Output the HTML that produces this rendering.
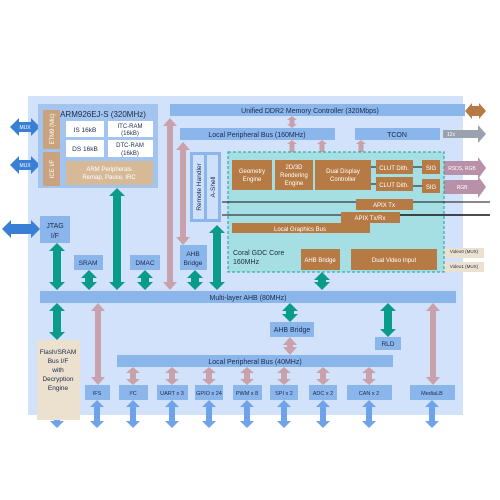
<!DOCTYPE html>
<html><head><meta charset="utf-8"><style>
html,body{margin:0;padding:0;background:#fff;width:500px;height:500px;overflow:hidden}
svg text{font-family:"Liberation Sans",sans-serif;fill:#1a2a4a}
</style></head><body>
<svg id="s" width="500" height="500" viewBox="0 0 500 500" xmlns="http://www.w3.org/2000/svg">
<rect x="28" y="96" width="435" height="319" fill="#d2e2fb"/>
<g id="arrows"></g>
<!-- ARM block -->
<rect x="38" y="104" width="120" height="84" fill="#a3c4ef"/>
<text x="103" y="117" font-size="8" text-anchor="middle">ARM926EJ-S (320MHz)</text>
<rect x="43" y="110" width="17" height="39" fill="#c9a27e"/>
<text transform="translate(54,129) rotate(-90)" font-size="6" text-anchor="middle" style="fill:#fff">ETM9 (Mic)</text>
<rect x="43" y="152" width="17" height="34" fill="#c9a27e"/>
<text transform="translate(54,169) rotate(-90)" font-size="6" text-anchor="middle" style="fill:#fff">ICE I/F</text>
<rect x="66" y="121" width="38" height="16" fill="#fff"/><text x="85" y="132" font-size="6.5" text-anchor="middle">IS 16kB</text>
<rect x="108" y="121" width="45" height="16" fill="#fff"/><text x="130" y="128" font-size="6" text-anchor="middle">ITC-RAM</text><text x="130" y="135" font-size="6" text-anchor="middle">(16kB)</text>
<rect x="66" y="140" width="38" height="17" fill="#fff"/><text x="85" y="151" font-size="6.5" text-anchor="middle">DS 16kB</text>
<rect x="108" y="140" width="45" height="17" fill="#fff"/><text x="130" y="147" font-size="6" text-anchor="middle">DTC-RAM</text><text x="130" y="155" font-size="6" text-anchor="middle">(16kB)</text>
<rect x="66" y="161" width="87" height="24" fill="#d6b997"/>
<text x="109" y="171" font-size="6" text-anchor="middle" style="fill:#fff">ARM Peripherals</text>
<text x="109" y="179" font-size="6" text-anchor="middle" style="fill:#fff">Remap, Pause, IRC</text>
<!-- JTAG SRAM DMAC -->
<rect x="40" y="216" width="30" height="27" fill="#8ab6ec"/><text x="55" y="228" font-size="7" text-anchor="middle">JTAG</text><text x="55" y="238" font-size="7" text-anchor="middle">I/F</text>
<rect x="74" y="255" width="29" height="15" fill="#8ab6ec"/><text x="88" y="265" font-size="6.5" text-anchor="middle">SRAM</text>
<rect x="130" y="255" width="30" height="15" fill="#8ab6ec"/><text x="145" y="265" font-size="6.5" text-anchor="middle">DMAC</text>
<!-- top buses -->
<rect x="170" y="104" width="295" height="12" fill="#8ab6ec"/><text x="310" y="113" font-size="7" text-anchor="middle">Unified DDR2 Memory Controller (320Mbps)</text>
<rect x="180" y="128" width="155" height="12" fill="#8ab6ec"/><text x="257" y="137" font-size="7" text-anchor="middle">Local Peripheral Bus (160MHz)</text>
<rect x="355" y="128" width="85" height="12" fill="#8ab6ec"/><text x="397" y="137" font-size="7" text-anchor="middle">TCON</text>
<!-- remote handler -->
<rect x="190" y="152" width="31" height="70" fill="#8ab6ec"/>
<rect x="193" y="155" width="11" height="64" fill="#cfe0fb"/><rect x="207" y="155" width="11" height="64" fill="#cfe0fb"/>
<text transform="translate(201,187) rotate(-90)" font-size="6.5" text-anchor="middle">Remote Handler</text>
<text transform="translate(215,187) rotate(-90)" font-size="6.5" text-anchor="middle">A-Shell</text>
<rect x="180" y="245" width="27" height="25" fill="#8ab6ec"/><text x="193" y="256" font-size="6.5" text-anchor="middle">AHB</text><text x="193" y="265" font-size="6.5" text-anchor="middle">Bridge</text>
<!-- coral -->
<rect x="228" y="152" width="216" height="120" fill="#a5dfe3" stroke="#13a39a" stroke-dasharray="3,2"/>
<g fill="#b67a45">
<rect x="232" y="160" width="40" height="30"/><rect x="275" y="160" width="38" height="30"/><rect x="315" y="160" width="56" height="30"/>
<rect x="376" y="160" width="37" height="14"/><rect x="376" y="177" width="37" height="14"/>
<rect x="422" y="160" width="18" height="14"/><rect x="422" y="179" width="18" height="14"/>
<rect x="356" y="199" width="57" height="11"/><rect x="341" y="212" width="59" height="11"/>
<rect x="232" y="223" width="138" height="10"/><rect x="301" y="249" width="39" height="21"/><rect x="351" y="249" width="86" height="21"/>
</g>
<g font-size="6" text-anchor="middle" style="fill:#fff">
<text x="252" y="173" style="fill:#fff">Geometry</text><text x="252" y="181" style="fill:#fff">Engine</text>
<text x="294" y="169" style="fill:#fff">2D/3D</text><text x="294" y="177" style="fill:#fff">Rendering</text><text x="294" y="185" style="fill:#fff">Engine</text>
<text x="343" y="173" style="fill:#fff">Dual Display</text><text x="343" y="181" style="fill:#fff">Controller</text>
<text x="394" y="170" style="fill:#fff">CLUT Dith.</text><text x="394" y="187" style="fill:#fff">CLUT Dith.</text>
<text x="431" y="170" style="fill:#fff">SIG</text><text x="431" y="189" style="fill:#fff">SIG</text>
<text x="384" y="207" style="fill:#fff">APIX Tx</text><text x="370" y="220" style="fill:#fff">APIX Tx/Rx</text>
<text x="300" y="231" style="fill:#fff">Local Graphics Bus</text>
<text x="320" y="262" style="fill:#fff">AHB Bridge</text><text x="394" y="262" style="fill:#fff">Dual Video Input</text>
</g>
<text x="233" y="255" font-size="7">Coral GDC Core</text><text x="233" y="264" font-size="7">160MHz</text>
<!-- AHB & lower -->
<rect x="40" y="291" width="416" height="12" fill="#8ab6ec"/><text x="248" y="300" font-size="7" text-anchor="middle">Multi-layer AHB (80MHz)</text>
<rect x="37" y="340" width="43" height="80" fill="#ece0cf"/>
<g font-size="6.5" text-anchor="middle"><text x="58" y="354">Flash/SRAM</text><text x="58" y="363">Bus I/F</text><text x="58" y="372">with</text><text x="58" y="381">Decryption</text><text x="58" y="390">Engine</text></g>
<rect x="270" y="322" width="44" height="15" fill="#8ab6ec"/><text x="292" y="332" font-size="7" text-anchor="middle">AHB Bridge</text>
<rect x="375" y="337" width="26" height="13" fill="#8ab6ec"/><text x="388" y="346" font-size="6.5" text-anchor="middle">RLD</text>
<rect x="117" y="355" width="276" height="12" fill="#8ab6ec"/><text x="255" y="364" font-size="7" text-anchor="middle">Local Peripheral Bus (40MHz)</text>
<g fill="#8ab6ec">
<rect x="85" y="385" width="25" height="15"/><rect x="119" y="385" width="29" height="15"/><rect x="157" y="385" width="31" height="15"/><rect x="195" y="385" width="28" height="15"/><rect x="233" y="385" width="29" height="15"/><rect x="270" y="385" width="28" height="15"/><rect x="309" y="385" width="28" height="15"/><rect x="347" y="385" width="45" height="15"/><rect x="410" y="385" width="45" height="15"/>
</g>
<g font-size="5.5" text-anchor="middle">
<text x="97" y="395">IFS</text><text x="133" y="395">I²C</text><text x="172" y="395">UART x 3</text><text x="209" y="395">GPIO x 24</text><text x="247" y="395">PWM x 8</text><text x="284" y="395">SPI x 2</text><text x="323" y="395">ADC x 2</text><text x="369" y="395">CAN x 2</text><text x="432" y="395">MediaLB</text>
</g>
<g font-size="5" text-anchor="middle" style="fill:#fff">
<text x="25" y="129" style="fill:#fff">MUX</text><text x="25" y="167" style="fill:#fff">MUX</text><text x="451" y="136" style="fill:#fff">12x</text>
<text x="462" y="170" style="fill:#fff">RSDS, RGB</text><text x="462" y="189" style="fill:#fff">RGB</text>
</g>
<g font-size="4.5" text-anchor="middle"><text x="464" y="253">Video0 (MUX)</text><text x="464" y="268">Video1 (MUX)</text></g>
</svg>
<script>
var g=document.getElementById('arrows'),ns='http://www.w3.org/2000/svg';
function poly(p,c){var e=document.createElementNS(ns,'polygon');e.setAttribute('points',p.map(function(q){return q.join(',')}).join(' '));e.setAttribute('fill',c);g.appendChild(e);}
function v(cx,y1,y2,c,w,hw,hl){poly([[cx,y1],[cx+hw,y1+hl],[cx+w,y1+hl],[cx+w,y2-hl],[cx+hw,y2-hl],[cx,y2],[cx-hw,y2-hl],[cx-w,y2-hl],[cx-w,y1+hl],[cx-hw,y1+hl]],c);}
function h(cy,x1,x2,c,w,hw,hl){poly([[x1,cy],[x1+hl,cy-hw],[x1+hl,cy-w],[x2-hl,cy-w],[x2-hl,cy-hw],[x2,cy],[x2-hl,cy+hw],[x2-hl,cy+w],[x1+hl,cy+w],[x1+hl,cy+hw]],c);}
var T='#0b9b8b',P='#c9a1aa',B='#6ea3ea';
[[57,243,290],[89,270,290],[117,188,290],[145,270,290],[195,270,290],[217,225,290],[322,272,290],[57,303,340],[290,303,322],[388,303,337]].forEach(function(a){v(a[0],a[1],a[2],T,4,8,8)});
[[170,118,290],[183,142,245],[98,303,385],[290,337,355],[433,303,385]].forEach(function(a){v(a[0],a[1],a[2],P,3,7,8)});
[[292,116,128],[292,140,160],[322,140,160],[361,140,160],[292,190,223],[322,190,223],[345,190,212],[361,190,200],[322,233,249],[361,233,249],[392,222,249]].forEach(function(a){v(a[0],a[1],a[2],P,2.5,5,4)});
[133,172,209,247,284,323,369].forEach(function(x){v(x,367,385,P,3,7,6)});
[57,97,133,172,209,247,284,323,369,432].forEach(function(x){v(x,400,428,B,3,7,7)});
h(127,10,40,'#3a7fd6',5,9,9);h(165,10,40,'#3a7fd6',5,9,9);h(229,2,40,'#3a7fd6',5,9,9);
h(111,465,486,'#b67a45',5,8,7);
poly([[443,130],[478,130],[478,125],[486,134],[478,143],[478,138],[443,138]],'#9aa2ad');
poly([[442,161],[478,161],[478,157],[486,168],[478,179],[478,175],[442,175]],'#b890a8');
poly([[442,180],[478,180],[478,176],[486,187],[478,198],[478,194],[442,194]],'#b890a8');
poly([[445,248],[484,248],[484,258],[445,258],[441,253]],'#ece0cf');
poly([[445,262],[484,262],[484,272],[445,272],[441,267]],'#ece0cf');
function line(x1,y1,x2,y2,w){var e=document.createElementNS(ns,'line');e.setAttribute('x1',x1);e.setAttribute('y1',y1);e.setAttribute('x2',x2);e.setAttribute('y2',y2);e.setAttribute('stroke','#111');e.setAttribute('stroke-width',w||1);document.getElementById('s').appendChild(e);}
line(222,202,356,202);line(413,202,490,202);line(222,215,341,215);line(400,215,490,215,1.5);
line(371,167,376,167);line(413,167,422,167);line(371,184,376,184);line(413,186,422,186);
</script>
</body></html>
